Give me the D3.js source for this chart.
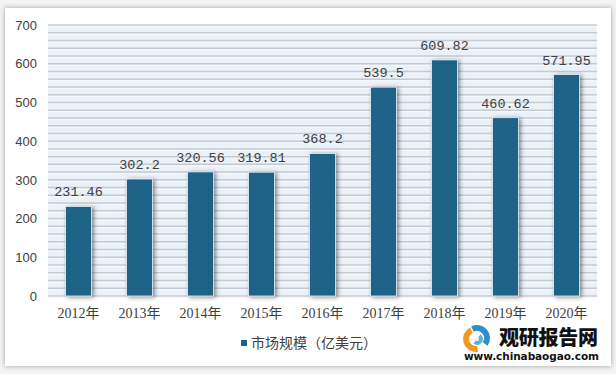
<!DOCTYPE html>
<html><head><meta charset="utf-8">
<script src="https://cdn.jsdelivr.net/npm/d3@7"></script>
<style>html,body{margin:0;padding:0;background:#fff;}svg{display:block;}</style>
</head><body>
<svg id="c" width="616" height="374"></svg>
<script>
const categories = ["2012年","2013年","2014年","2015年","2016年","2017年","2018年","2019年","2020年"];
const values = [231.46, 302.2, 320.56, 319.81, 368.2, 539.5, 609.82, 460.62, 571.95];
const valueLabels = ["231.46","302.2","320.56","319.81","368.2","539.5","609.82","460.62","571.95"];
const yTicks = [0,100,200,300,400,500,600,700];
const seriesName = "市场规模（亿美元）";

const svg = d3.select("#c");
const defs = svg.append("defs");
const f = defs.append("filter").attr("id","sh").attr("x","-5%").attr("y","-5%").attr("width","110%").attr("height","110%");
f.append("feDropShadow").attr("dx",0).attr("dy",0).attr("stdDeviation",2.5).attr("flood-color","#000").attr("flood-opacity",0.35);
const fb = defs.append("filter").attr("id","bsh").attr("x","-40%").attr("y","-10%").attr("width","180%").attr("height","120%");
fb.append("feDropShadow").attr("dx",2).attr("dy",1).attr("stdDeviation",2).attr("flood-color","#000").attr("flood-opacity",0.45);

svg.append("rect").attr("width",616).attr("height",374).attr("fill","#f3f3f3");
svg.append("rect").attr("x",5).attr("y",8).attr("width",606).attr("height",358).attr("fill","#fff").attr("filter","url(#sh)");

const x0 = 48, x1 = 597, yTop = 25, yBot = 296;
const x = d3.scaleBand().domain(categories).range([x0,x1]).paddingInner(0.575).paddingOuter(0.2875);
const y = d3.scaleLinear().domain([0,700]).range([yBot,yTop]);

// plot background
svg.append("rect").attr("x",x0).attr("y",yTop).attr("width",x1-x0).attr("height",yBot-yTop).attr("fill","#eaf1f9");
const grid = d3.range(0,701,20);
svg.append("g").selectAll("line.w").data(grid).join("line")
  .attr("x1",x0).attr("x2",x1).attr("y1",d=>y(d)+1.6).attr("y2",d=>y(d)+1.6)
  .attr("stroke","#f7fafd").attr("stroke-width",1);
svg.append("g").selectAll("line.g").data(grid).join("line")
  .attr("x1",x0).attr("x2",x1).attr("y1",d=>y(d)).attr("y2",d=>y(d))
  .attr("stroke","#c6cacf").attr("stroke-width",1.5);

// y axis
const ya = svg.append("g").attr("transform",`translate(${x0},0)`)
  .call(d3.axisLeft(y).tickValues(yTicks).tickSize(0).tickPadding(11));
ya.select(".domain").remove();
ya.selectAll("text").attr("font-family","'Liberation Sans', Arial, sans-serif").attr("font-size",13).attr("fill","#404040");

// x axis
const xa = svg.append("g").attr("transform",`translate(0,${yBot})`)
  .call(d3.axisBottom(x).tickSize(0).tickPadding(12));
xa.select(".domain").remove();
xa.selectAll("text").attr("font-family","'Liberation Serif', 'Noto Sans CJK SC', serif").attr("font-size",14).attr("fill","#404040");

// bars
svg.append("g").selectAll("rect").data(values).join("rect")
  .attr("x",(d,i)=>x(categories[i])).attr("y",d=>y(d))
  .attr("width",x.bandwidth()).attr("height",d=>yBot-y(d))
  .attr("fill","#1b6487").attr("stroke","#e8eef3").attr("stroke-width",0.8)
  .attr("filter","url(#bsh)");

// value labels
svg.append("g").selectAll("text").data(values).join("text")
  .attr("x",(d,i)=>x(categories[i])+x.bandwidth()/2).attr("y",d=>y(d)-10)
  .attr("text-anchor","middle")
  .attr("font-family","'Liberation Mono', 'DejaVu Sans Mono', monospace").attr("font-size",13.5)
  .attr("fill","#404040")
  .text((d,i)=>valueLabels[i]);

// legend
const lg = svg.append("g");
lg.append("rect").attr("x",241).attr("y",340).attr("width",6).attr("height",6).attr("fill","#1b6487");
lg.append("text").attr("x",251).attr("y",348).attr("font-family","'Noto Sans CJK SC', sans-serif").attr("font-size",14).attr("fill","#404040").text(seriesName);

// watermark
const wm = svg.append("g");
const arc = d3.arc();
wm.append("path").attr("transform","translate(476,339)")
  .attr("d",arc({innerRadius:7,outerRadius:13,startAngle:Math.PI*0.95,endAngle:Math.PI*1.85})).attr("fill","#f39a1e");
wm.append("path").attr("transform","translate(477,338)")
  .attr("d",arc({innerRadius:7,outerRadius:13,startAngle:-0.15*Math.PI,endAngle:Math.PI*0.7})).attr("fill","#2b8fc9");
wm.append("path").attr("transform","translate(477,339)")
  .attr("d",arc({innerRadius:2,outerRadius:6,startAngle:Math.PI*0.2,endAngle:Math.PI*1.2})).attr("fill","#5aaee0");
wm.append("text").attr("x",499).attr("y",345).attr("font-family","'Noto Sans CJK SC', sans-serif").attr("font-weight",900)
  .attr("font-size",20).attr("textLength",99).attr("fill","#111").text("观研报告网");
wm.append("text").attr("x",464).attr("y",360).attr("font-family","'DejaVu Sans', sans-serif").attr("font-weight",700)
  .attr("font-size",10.5).attr("textLength",135).attr("fill","#111").text("www.chinabaogao.com");
</script>
</body></html>
